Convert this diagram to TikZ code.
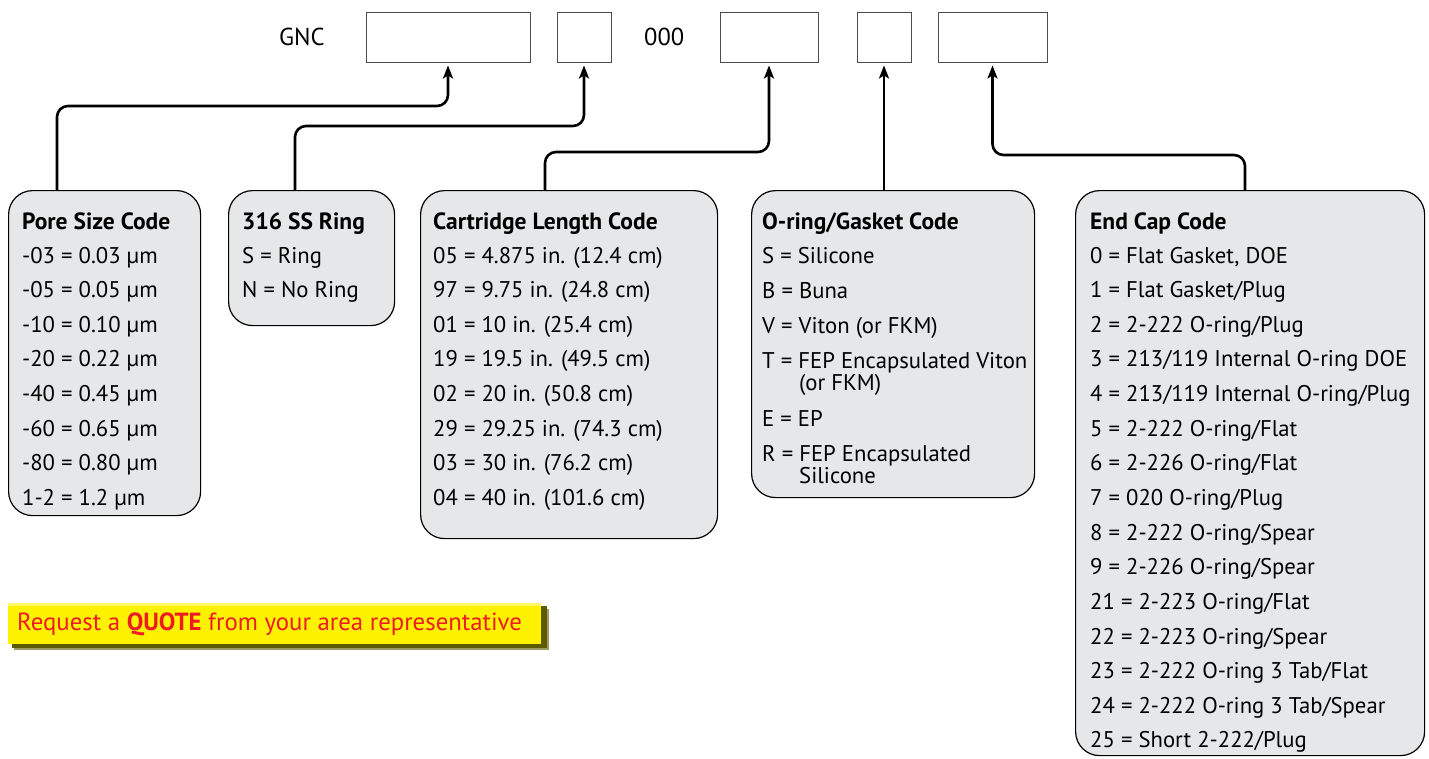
\documentclass[tikz,border=0pt]{standalone}
\usepackage{fontspec}
\setmainfont{PT Sans}
\usetikzlibrary{arrows.meta,calc}
\definecolor{boxgray}{HTML}{E6E7E8}
\definecolor{qyellow}{HTML}{FFF200}
\definecolor{qred}{HTML}{ED1C24}
\definecolor{qshadow}{HTML}{5E5A00}
\begin{document}
\begin{tikzpicture}[x=1pt,y=-1pt,
  topbox/.style={draw=black!70,line width=0.9pt,inner sep=0pt,minimum height=50pt},
  codebox/.style={draw=black,line width=1.2pt,fill=boxgray,rounded corners=24pt,inner sep=0pt,anchor=north west},
  txt/.style={anchor=base west,inner sep=0pt,font=\fontsize{22.7}{24}\selectfont},
  ttl/.style={txt,font=\fontsize{23.5}{25}\selectfont\bfseries},
  conn/.style={line width=2.6pt,rounded corners=11pt,-{Stealth[length=13pt,width=10pt,inset=3pt]},shorten >=3pt}]
\useasboundingbox (0,0) rectangle (1429,758);
% top code line
\node[txt,anchor=west,font=\fontsize{24.5}{26}\selectfont] (gnc) at (279,37) {GNC};
\node[topbox,minimum width=164pt] (t1) at (448,37) {};
\node[topbox,minimum width=54pt] (t2) at (584,37) {};
\node[txt,anchor=west,font=\fontsize{24.5}{26}\selectfont] (zz) at (644,37) {000};
\node[topbox,minimum width=98pt] (t3) at (769,37) {};
\node[topbox,minimum width=54pt] (t4) at (884,37) {};
\node[topbox,minimum width=109pt] (t5) at (992.5,37) {};
% code boxes
\node[codebox,minimum width=192pt,minimum height=325pt] (pa) at (8,190) {};
\node[codebox,minimum width=166pt,minimum height=135pt] (pb) at (228,190) {};
\node[codebox,minimum width=297pt,minimum height=348pt] (pc) at (420,190) {};
\node[codebox,minimum width=283pt,minimum height=307pt] (pd) at (751,190) {};
\node[codebox,minimum width=349pt,minimum height=565pt] (pe) at (1075,190) {};
% connector helpers
\coordinate (xa) at (57,0);
\coordinate (xb) at (295,0);
\coordinate (xc) at (545,0);
\coordinate (xe) at (1245,0);
\coordinate (ya) at (0,106);
\coordinate (yb) at (0,126);
\coordinate (yc) at (0,152);
\coordinate (ye) at (0,155);
\draw[conn] (pa.north -| xa) |- (t1.south |- ya) -- (t1.south);
\draw[conn] (pb.north -| xb) |- (t2.south |- yb) -- (t2.south);
\draw[conn] (pc.north -| xc) |- (t3.south |- yc) -- (t3.south);
\draw[conn] (pd.north -| t4.south) -- (t4.south);
\draw[conn] (pe.north -| xe) |- (t5.south |- ye) -- (t5.south);
% texts
\node[ttl] at (22,229) {Pore Size Code};
\foreach \t [count=\i from 0] in {-03 = 0.03 µm,-05 = 0.05 µm,-10 = 0.10 µm,-20 = 0.22 µm,-40 = 0.45 µm,-60 = 0.65 µm,-80 = 0.80 µm,1-2 = 1.2 µm}
  \node[txt] at (22,263+34.64*\i) {\t};
\node[ttl] at (242,229) {316 SS Ring};
\foreach \t [count=\i from 0] in {S = Ring,N = No Ring}
  \node[txt] at (242,263+34.64*\i) {\t};
\node[ttl] at (433,229) {Cartridge Length Code};
\foreach \t [count=\i from 0] in {05 = 4.875 in. (12.4 cm),97 = 9.75 in. (24.8 cm),01 = 10 in. (25.4 cm),19 = 19.5 in. (49.5 cm),02 = 20 in. (50.8 cm),29 = 29.25 in. (74.3 cm),03 = 30 in. (76.2 cm),04 = 40 in. (101.6 cm)}
  \node[txt] at (433,263+34.64*\i) {\t};
\node[ttl] at (762,229) {O-ring/Gasket Code};
\node[txt] at (762,263) {S = Silicone};
\node[txt] at (762,298) {B = Buna};
\node[txt] at (762,333) {V = Viton (or FKM)};
\node[txt] at (762,368) {T = FEP Encapsulated Viton};
\node[txt] at (799,390) {(or FKM)};
\node[txt] at (762,426) {E = EP};
\node[txt] at (762,461) {R = FEP Encapsulated};
\node[txt] at (799,483) {Silicone};
\node[ttl] at (1090,229) {End Cap Code};
\foreach \t [count=\i from 0] in {{0 = Flat Gasket, DOE},1 = Flat Gasket/Plug,2 = 2-222 O-ring/Plug,3 = 213/119 Internal O-ring DOE,4 = 213/119 Internal O-ring/Plug,5 = 2-222 O-ring/Flat,6 = 2-226 O-ring/Flat,7 = 020 O-ring/Plug,8 = 2-222 O-ring/Spear,9 = 2-226 O-ring/Spear,21 = 2-223 O-ring/Flat,22 = 2-223 O-ring/Spear,23 = 2-222 O-ring 3 Tab/Flat,24 = 2-222 O-ring 3 Tab/Spear,25 = Short 2-222/Plug}
  \node[txt] at (1090,263+34.64*\i) {\t};
% quote button
\fill[qshadow!60] (14,609) rectangle (549,650);
\fill[qshadow] (12,606) rectangle (547,648);
\fill[qyellow] (8,603) rectangle (541,644);
\fill[qyellow!60!white] (8,603) rectangle (541,606);
\node[txt,anchor=west,text=qred,font=\fontsize{24.8}{26}\selectfont] (quote) at (17,624) {Request a \textbf{QUOTE} from your area representative};
\end{tikzpicture}
\end{document}
